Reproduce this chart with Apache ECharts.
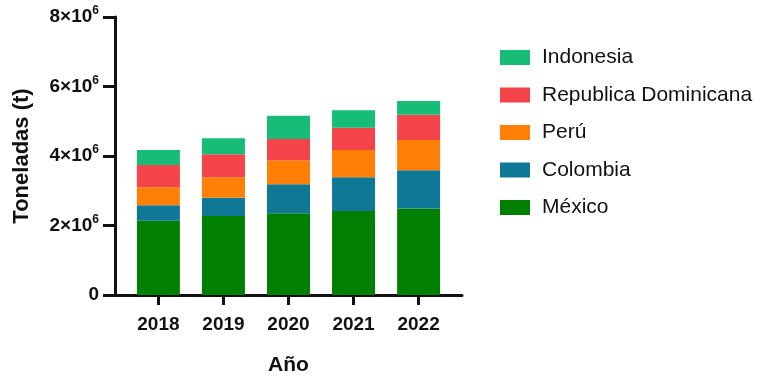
<!DOCTYPE html>
<html>
<head>
<meta charset="utf-8">
<script src="https://cdn.jsdelivr.net/npm/echarts@6/dist/echarts.min.js"></script>
<style>
  html, body { margin: 0; padding: 0; background: #fff; }
  #main { width: 770px; height: 377px; }
</style>
</head>
<body>
<div id="main"></div>
<script>
// años y toneladas (t) por país
const years = [2018, 2019, 2020, 2021, 2022];
const mexico = [2.14e6, 2.27e6, 2.35e6, 2.42e6, 2.49e6];
const colombia = [0.44e6, 0.53e6, 0.84e6, 0.97e6, 1.10e6];
const peru = [0.52e6, 0.59e6, 0.69e6, 0.78e6, 0.87e6];
const repDominicana = [0.64e6, 0.66e6, 0.61e6, 0.64e6, 0.73e6];
const indonesia = [0.43e6, 0.46e6, 0.67e6, 0.51e6, 0.39e6];
const yTicks = [0, 2e6, 4e6, 6e6, 8e6];

const font = '"Liberation Sans", Arial, sans-serif';

let chart = echarts.init(document.getElementById('main'));

// valor primero para que el stack se haga sobre y (eje x es de tipo value)
function serie(name, values, color) {
  return {
    name: name,
    type: 'bar',
    stack: 'total',
    barWidth: 43,
    encode: { x: 1, y: 0 },
    itemStyle: { color: color },
    data: years.map((y, i) => [values[i], y])
  };
}

let option = {
  animation: false,
  textStyle: { fontFamily: font },
  grid: {
    left: 115,
    right: 308,
    top: 17,
    bottom: 82,
    outerBoundsMode: 'none'
  },
  legend: {
    orient: 'vertical',
    left: 495,
    top: 42,
    itemWidth: 30,
    itemHeight: 15,
    itemGap: 16.5,
    icon: 'rect',
    data: ['Indonesia', 'Republica Dominicana', 'Perú', 'Colombia', 'México'],
    textStyle: {
      fontFamily: font,
      fontSize: 21,
      color: '#111',
      padding: [0, 0, 0, 7]
    }
  },
  xAxis: {
    type: 'value',
    min: years[0] - 0.667,
    max: years[years.length - 1] + 0.667,
    name: 'Año',
    nameLocation: 'middle',
    nameGap: 60,
    nameTextStyle: { fontFamily: font, fontSize: 21, fontWeight: 'bold', color: '#111' },
    splitLine: { show: false },
    axisLine: { lineStyle: { color: '#111', width: 3 } },
    axisTick: { show: true, customValues: years, length: 10, lineStyle: { color: '#111', width: 3 } },
    axisLabel: {
      customValues: years,
      formatter: v => String(v),
      margin: 20,
      fontFamily: font,
      fontSize: 19,
      fontWeight: 'bold',
      color: '#111'
    }
  },
  yAxis: {
    type: 'value',
    min: yTicks[0],
    max: yTicks[yTicks.length - 1],
    interval: 2e6,
    name: 'Toneladas (t)',
    nameLocation: 'middle',
    nameGap: 82,
    nameTextStyle: { fontFamily: font, fontSize: 22, fontWeight: 'bold', color: '#111' },
    splitLine: { show: false },
    axisLine: { show: true, lineStyle: { color: '#111', width: 3 } },
    axisTick: { show: true, length: 12, lineStyle: { color: '#111', width: 3 } },
    axisLabel: {
      margin: 16,
      formatter: v => v === 0 ? '{m|0}' : '{m|' + (v / 1e6) + '×10}{s|6}',
      rich: {
        m: { fontFamily: font, fontSize: 19, fontWeight: 'bold', color: '#111', lineHeight: 24 },
        s: { fontFamily: font, fontSize: 12, fontWeight: 'bold', color: '#111', lineHeight: 13, verticalAlign: 'top' }
      }
    }
  },
  series: [
    serie('México', mexico, '#007f00'),
    serie('Colombia', colombia, '#0e7896'),
    serie('Perú', peru, '#ff7f07'),
    serie('Republica Dominicana', repDominicana, '#f5434a'),
    serie('Indonesia', indonesia, '#17bd77')
  ]
};

chart.setOption(option);
</script>
</body>
</html>
